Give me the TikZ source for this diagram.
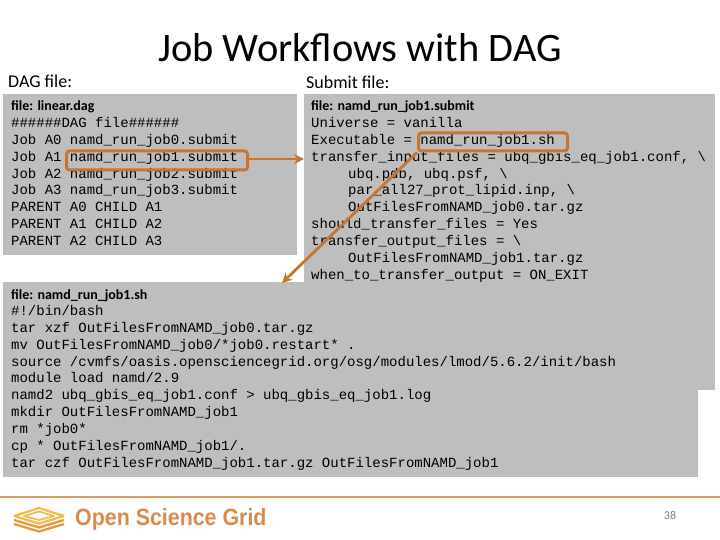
\documentclass[tikz,border=0pt]{standalone}
\usepackage{fontspec}
\setmainfont{Carlito}
\newfontfamily\codefont{Liberation Mono}
\newfontfamily\logofont[FakeStretch=0.91]{Liberation Sans}
\definecolor{boxgrey}{HTML}{BEBEBE}
\definecolor{hlorange}{HTML}{C8752F}
\definecolor{ruleorange}{HTML}{DD9C62}
\definecolor{logoorange}{HTML}{DB8A4C}
\definecolor{logoyellow}{HTML}{F4BC50}
\definecolor{logodeep}{HTML}{E59A35}
\tikzset{
  greybox/.style={fill=boxgrey,draw=none,anchor=north west,inner sep=0pt},
  codetext/.style={anchor=north west,inner sep=0pt,align=left,text=black,font=\codefont\fontsize{14}{16.9}\selectfont},
  filelabel/.style={anchor=base west,inner sep=0pt,font=\bfseries\fontsize{14}{16}\selectfont},
  heading/.style={anchor=base west,inner sep=0pt,font=\fontsize{18}{20}\selectfont},
  hlbox/.style={draw=hlorange,line width=3pt,rounded corners=3pt,fill=none,anchor=north west,inner sep=0pt},
  hlarrow/.style={draw=hlorange,line width=2.8pt,-{Stealth[length=10pt,width=10pt]}},
  footrule/.style={draw=ruleorange,line width=2.4pt},
  logolayer/.style={line width=2.3pt,fill=none,line join=round}
}
\usetikzlibrary{arrows.meta}
\begin{document}
\begin{tikzpicture}[x=1pt,y=-1pt]
\useasboundingbox (0,0) rectangle (720,540);
\fill[white] (0,0) rectangle (720,540);
% boxes
\node[greybox,minimum width=294pt,minimum height=161pt] (dagbox) at (3,94) {};
\node[greybox,minimum width=411pt,minimum height=296pt] (subbox) at (304,94) {};
\node[greybox,minimum width=695pt,minimum height=195pt] (shbox) at (3,282) {};
% title and headings
\node[anchor=base,inner sep=0pt,font=\fontsize{40.4}{44}\selectfont] (title) at (360,62) {Job Workflows with DAG};
\node[heading] (daghead) at (8,88) {DAG file:};
\node[heading] (subhead) at (306,89) {Submit file:};
% file labels
\node[filelabel] (daglabel) at (11,111) {file: linear.dag};
\node[filelabel] (sublabel) at (311,111) {file: namd\_run\_job1.submit};
\node[filelabel] (shlabel) at (11,299) {file: namd\_run\_job1.sh};
% code
\node[codetext] (dagcode) at (11,117) {\#\#\#\#\#\#DAG file\#\#\#\#\#\#\\
Job A0 namd\_run\_job0.submit\\
Job A1 namd\_run\_job1.submit\\
Job A2 namd\_run\_job2.submit\\
Job A3 namd\_run\_job3.submit\\
PARENT A0 CHILD A1\\
PARENT A1 CHILD A2\\
PARENT A2 CHILD A3};
\node[codetext] (subcode) at (311,117) {Universe = vanilla\\
Executable = namd\_run\_job1.sh\\
transfer\_input\_files = ubq\_gbis\_eq\_job1.conf, \textbackslash\\
\hspace*{37pt}ubq.pdb, ubq.psf, \textbackslash\\
\hspace*{37pt}par\_all27\_prot\_lipid.inp, \textbackslash\\
\hspace*{37pt}OutFilesFromNAMD\_job0.tar.gz\\
should\_transfer\_files = Yes\\
transfer\_output\_files = \textbackslash\\
\hspace*{37pt}OutFilesFromNAMD\_job1.tar.gz\\
when\_to\_transfer\_output = ON\_EXIT};
\node[codetext] (shcode) at (11,305) {\#!/bin/bash\\
tar xzf OutFilesFromNAMD\_job0.tar.gz\\
mv OutFilesFromNAMD\_job0/*job0.restart* .\\
source /cvmfs/oasis.opensciencegrid.org/osg/modules/lmod/5.6.2/init/bash\\
module load namd/2.9\\
namd2 ubq\_gbis\_eq\_job1.conf > ubq\_gbis\_eq\_job1.log\\
mkdir OutFilesFromNAMD\_job1\\
rm *job0*\\
cp * OutFilesFromNAMD\_job1/.\\
tar czf OutFilesFromNAMD\_job1.tar.gz OutFilesFromNAMD\_job1};
% highlights and arrows
\node[hlbox,minimum width=181pt,minimum height=19pt] (hlone) at (65,149.5) {};
\node[hlbox,minimum width=149pt,minimum height=18pt] (hltwo) at (417,131.5) {};
\coordinate (subtarget) at (304,159);
\coordinate (shtarget) at (282,283);
\draw[hlarrow] (hlone.east |- subtarget) -- (subtarget);
\draw[hlarrow] (hltwo.south west) -- (shtarget);
% footer
\coordinate (ruleleft) at (0,497);
\coordinate (ruleright) at (720,497);
\draw[footrule] (ruleleft) -- (ruleright);
\draw[logolayer,draw=logodeep] (14,524) -- (39,531.5) -- (64,524);
\draw[logolayer,draw=logodeep] (14,520) -- (39,527.5) -- (64,520);
\draw[logolayer,draw=logoyellow] (14,516) -- (39,523.5) -- (64,516);
\draw[logolayer,draw=logoyellow] (14,516) -- (39,508) -- (64,516);
\draw[logolayer,draw=logoyellow,line width=1.8pt] (24,516) -- (39,511.5) -- (54,516) -- (39,520) -- cycle;
\node[anchor=base west,inner sep=0pt,text=logoorange,font=\logofont\bfseries\fontsize{23.5}{26}\selectfont] (logotext) at (75,525) {Open Science Grid};
\node[anchor=base,inner sep=0pt,text=gray,font=\fontsize{12}{14}\selectfont] (pagenum) at (670,519) {38};
\end{tikzpicture}
\end{document}
